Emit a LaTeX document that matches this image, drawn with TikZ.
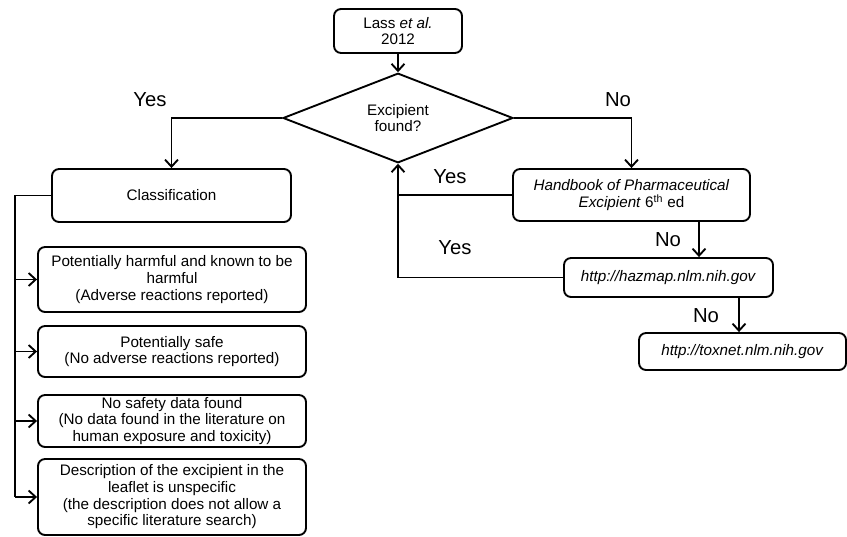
\documentclass[tikz,border=0pt]{standalone}
\usepackage{fontspec}
\setmainfont{Liberation Sans}
\usetikzlibrary{arrows.meta,positioning,shapes.geometric}
\tikzset{
	arr/.style={-{Straight Barb[length=6pt,width=11pt]}},
	box/.style={draw,rectangle,rounded corners=6pt,align=center,inner sep=1pt,font=\fontsize{13}{14.2}\selectfont},
	decision/.style={draw,diamond,align=center,inner sep=0pt,font=\fontsize{13}{14.2}\selectfont},
	answer/.style={font=\fontsize{17.3}{20}\selectfont}
}
\begin{document}
\begin{tikzpicture}[x=0.03cm,y=-0.03cm,line width=1.6pt]
			\useasboundingbox (0,0) rectangle (847,537);
			
			\node[box,minimum width=3.84cm,minimum height=1.32cm] (lass) at (398,31) {Lass \textit{et al.}\\2012};
			\node[decision,minimum width=6.9cm,minimum height=2.19cm] (dec) at (398,118) {Excipient\\found?};
			
			% found: classification
			\node[box,minimum width=7.17cm,minimum height=1.59cm] (cls) at (171.5,195.5) {Classification};
			\node[box,minimum width=8.04cm,minimum height=1.95cm] (harm) at (172,279.5) {Potentially harmful and known to be\\harmful\\(Adverse reactions reported)};
			\node[box,minimum width=8.04cm,minimum height=1.53cm] (safe) at (172,351.5) {Potentially safe\\(No adverse reactions reported)};
			\node[box,minimum width=8.04cm,minimum height=1.56cm] (nodata) at (172,421) {No safety data found\\(No data found in the literature on\\human exposure and toxicity)};
			\node[box,minimum width=8.04cm,minimum height=2.28cm] (desc) at (172,497) {Description of the excipient in the\\leaflet is unspecific\\(the description does not allow a\\specific literature search)};
			\coordinate (bus) at (15,196);
			
			% not found: sources
			\node[box,minimum width=7.11cm,minimum height=1.56cm] (hbk) at (631.5,195) {\textit{Handbook of Pharmaceutical}\\\textit{Excipient} 6\textsuperscript{th} ed};
			\node[box,minimum width=6.27cm,minimum height=1.17cm] (haz) at (668.5,277.5) {\textit{http://hazmap.nlm.nih.gov}};
			\node[box,minimum width=6.21cm,minimum height=1.11cm] (tox) at (742.5,351.5) {\textit{http://toxnet.nlm.nih.gov}};
			\coordinate (hx) at (699,0);
			\coordinate (tx) at (739,0);
			
			\node[answer] (yes1) at (150,100) {Yes};
			\node[answer] (no1) at (618,100) {No};
			\node[answer] (yes2) at (450,177) {Yes};
			\node[answer] (no2) at (668,240) {No};
			\node[answer] (yes3) at (455,248) {Yes};
			\node[answer] (no3) at (706,316) {No};
			
			\draw[arr] (lass) -- (dec);
			\draw[arr] (dec.west) -| (cls.north);
			\draw[arr] (dec.east) -| (hbk.north);
			\draw (cls.west) -| (bus |- desc.west);
			\foreach \b in {harm,safe,nodata,desc}
				\draw[arr] (bus |- \b.west) -- (\b.west);
			\draw (hbk.west) -- (hbk.west -| dec.south);
			\draw[arr] (haz.west) -| (dec.south);
			\draw[arr] (hbk.south -| hx) -- (haz.north -| hx);
			\draw[arr] (haz.south -| tx) -- (tox.north -| tx);
		\end{tikzpicture}
\end{document}
